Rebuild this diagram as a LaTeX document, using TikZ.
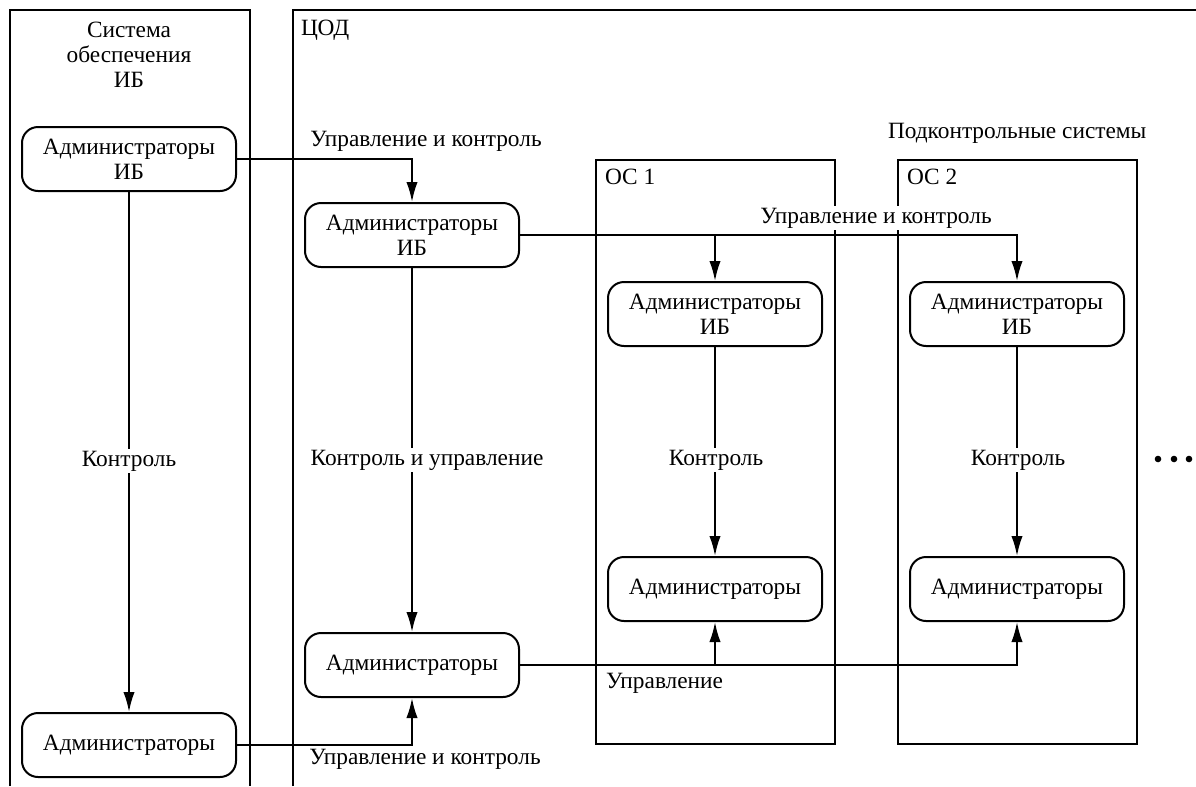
\documentclass[tikz,border=0pt]{standalone}
\usepackage{fontspec}
\setmainfont{Liberation Serif}
\usetikzlibrary{arrows.meta}

\tikzset{every picture/.style={line width=1.5pt}}
\tikzset{
	admbox/.style={draw, line width=1.5pt, rounded corners=12pt, minimum width=160.5pt, minimum height=48pt, align=center, inner sep=2pt},
	lbl/.style={fill=white, inner sep=1.5pt},
	txt/.style={anchor=west, inner sep=0pt},
	arr/.style={line width=1.5pt, -{Latex[length=15pt,width=8.5pt]}},
}

\begin{document}
\begin{tikzpicture}[x=0.75pt,y=0.75pt,yscale=-1,xscale=1,line width=1.5pt,font=\fontsize{17.5}{18.75}\selectfont]
	\useasboundingbox (0,0) rectangle (1196,786);

	%Frames
	\draw (10,786) -- (10,10) -- (250,10) -- (250,786);
	\draw (293,786) -- (293,10) -- (1196,10);
	\draw (596,160) rectangle (835,744);
	\draw (898,160) rectangle (1137,744);

	% Boxes
	\node[admbox] (sysA) at (129,159) {Администраторы\\ИБ};
	\node[admbox] (sysB) at (129,745) {Администраторы};
	\node[admbox] (codA) at (412,235) {Администраторы\\ИБ};
	\node[admbox] (codB) at (412,665) {Администраторы};
	\node[admbox] (osA1) at (715,314) {Администраторы\\ИБ};
	\node[admbox] (osB1) at (715,589) {Администраторы};
	\node[admbox] (osA2) at (1017,314) {Администраторы\\ИБ};
	\node[admbox] (osB2) at (1017,589) {Администраторы};

	%Straight Lines
	\draw[arr] (sysA.east) -| (codA.north);
	\draw[arr] (sysA.south) -- (sysB.north);
	\draw[arr] (sysB.east) -| (codB.south);
	\draw[arr] (codA.south) -- (codB.north);
	\draw[arr] (codA.east) -| (osA2.north);
	\draw[arr] (codA.east -| osA1.north) -- (osA1.north);
	\draw[arr] (osA1.south) -- (osB1.north);
	\draw[arr] (osA2.south) -- (osB2.north);
	\draw[arr] (codB.east) -| (osB2.south);
	\draw[arr] (codB.east -| osB1.south) -- (osB1.south);

	% Text Node
	\node[align=center] (sysT) at (129,55) {Система\\обеспечения\\ИБ};
	% Text Node
	\node[txt] (codT) at (300,30) {ЦОД};
	% Text Node
	\node[txt] (osT1) at (604,177) {ОС 1};
	% Text Node
	\node[txt] (osT2) at (906,177) {ОС 2};
	% Text Node
	\node[txt] (subT) at (887,133) {Подконтрольные системы};
	% Text Node
	\node[lbl] (l1) at (426,141) {Управление и контроль};
	\node[lbl] (l2) at (129,461) {Контроль};
	\node[lbl] (l3) at (427,460) {Контроль и управление};
	\node[lbl] (l4) at (425,759) {Управление и контроль};
	\node[lbl] (l5) at (876,218) {Управление и контроль};
	\node[lbl] (l6) at (716,460) {Контроль};
	\node[lbl] (l7) at (1018,460) {Контроль};
	\node[txt] (l8) at (605,683) {Управление};

	% Dots
	\foreach \x in {1158,1174,1189}
		\fill (\x,459) circle [radius=3.3];
\end{tikzpicture}
\end{document}
